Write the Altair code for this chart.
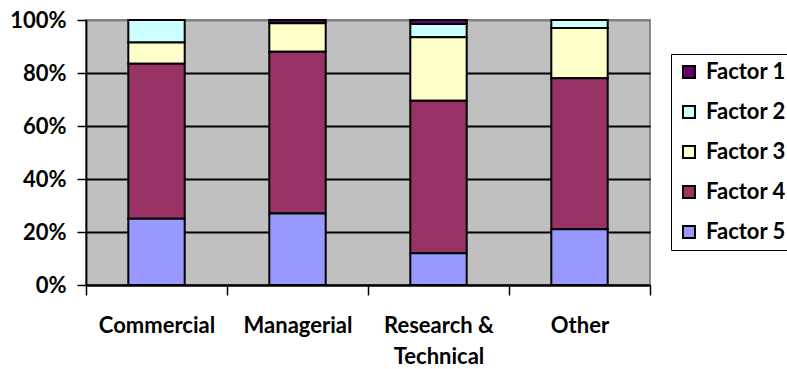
import altair as alt
import pandas as pd

categories = ["Commercial", "Managerial", "Research & Technical", "Other"]
factors = ["Factor 1", "Factor 2", "Factor 3", "Factor 4", "Factor 5"]
factor1 = [0.0, 1.2, 1.5, 0.0]
factor2 = [8.5, 0.0, 5.0, 3.0]
factor3 = [8.0, 10.8, 24.0, 19.0]
factor4 = [58.5, 61.0, 57.5, 57.0]
factor5 = [25.0, 27.0, 12.0, 21.0]
colors = ["#660066", "#CCFFFF", "#FFFFCC", "#993366", "#9999FF"]

series = [factor1, factor2, factor3, factor4, factor5]
rows = []
for fi, (fname, vals) in enumerate(zip(factors, series)):
    for cat, v in zip(categories, vals):
        rows.append({"category": cat, "factor": fname, "value": v, "ord": 4 - fi})
df = pd.DataFrame(rows)

FONT = "Lato"
FS = 22

chart = alt.Chart(df).mark_bar(
    width=alt.RelativeBandSize(0.4), stroke="black", strokeWidth=2
).encode(
    x=alt.X("category:N", sort=categories, title=None,
            scale=alt.Scale(paddingInner=0, paddingOuter=0),
            axis=alt.Axis(labelAngle=0, tickBand="extent", tickSize=10, tickColor="black",
                          tickWidth=1.5, domainColor="black", domainWidth=1.8,
                          labelFont=FONT, labelFontSize=FS, labelFontWeight="bold",
                          labelColor="black", labelPadding=20, labelLineHeight=31,
                          labelExpr="datum.label == 'Research & Technical' ? ['Research &', 'Technical'] : datum.label",
                          grid=False)),
    y=alt.Y("value:Q", stack="normalize", title=None,
            scale=alt.Scale(domain=[0, 1]),
            axis=alt.Axis(format="%", values=[0, 0.2, 0.4, 0.6, 0.8, 1.0], tickSize=9,
                          tickColor="black", tickWidth=1.5, domainColor="black", domainWidth=1.8,
                          labelFont=FONT, labelFontSize=FS, labelFontWeight="bold",
                          labelColor="black", labelPadding=11,
                          grid=True, gridWidth=1.8,
                          gridColor={"condition": {"test": "datum.value >= 1", "value": "#808080"}, "value": "black"})),
    color=alt.Color("factor:N", scale=alt.Scale(domain=factors, range=colors),
                    legend=alt.Legend(title=None, orient="none", legendX=585, legendY=34,
                                      strokeColor="black", padding=7, rowPadding=18,
                                      symbolType="square", symbolSize=144, symbolStrokeColor="black",
                                      symbolStrokeWidth=2, labelFont=FONT, labelFontSize=FS,
                                      labelFontWeight="bold", labelColor="black", labelOffset=6,
                                      fillColor="white")),
    order=alt.Order("ord:Q", sort="ascending"),
).properties(
    width=564, height=265,
    autosize=alt.AutoSizeParams(type="none"),
    padding={"left": 86, "top": 20, "right": 137, "bottom": 84},
    background="white",
).configure_view(
    fill="#C0C0C0", stroke="#808080", strokeWidth=1.8
)

chart.save("out.html", embed_options={"renderer": "svg", "actions": False})
